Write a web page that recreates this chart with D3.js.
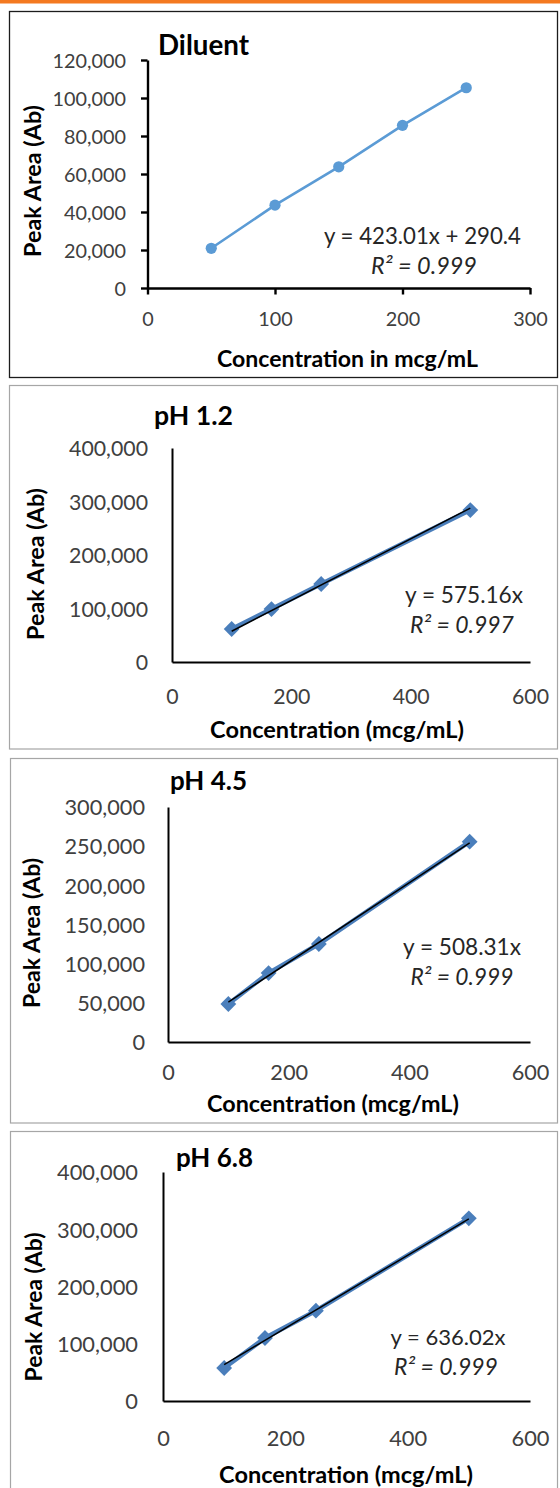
<!DOCTYPE html>
<html><head><meta charset="utf-8">
<script src="https://cdn.jsdelivr.net/npm/d3@7"></script>
<style>body{margin:0;background:#fff}svg{display:block}text{font-family:Lato,"Open Sans",sans-serif}</style>
</head><body><svg id="c" width="560" height="1488"></svg>
<script>
// ---- data ----
const diluentConc = [50, 100, 150, 200, 250];
const diluentArea = [20900, 43600, 63800, 85600, 105400];
const bufferConc = [100, 166.7, 250, 500];
const ph12Area = [61700, 99000, 145800, 284000];
const ph45Area = [48500, 88000, 125100, 255700];
const ph68Area = [57600, 110000, 157700, 319100];
const panelTitles = ["Diluent", "pH 1.2", "pH 4.5", "pH 6.8"];
const xAxisTitles = ["Concentration in mcg/mL", "Concentration (mcg/mL)", "Concentration (mcg/mL)", "Concentration (mcg/mL)"];
const yAxisTitle = "Peak Area (Ab)";
const slopes = [423.01, 575.16, 508.31, 636.02];
const intercepts = [290.4, 0, 0, 0];
const rSquared = ["0.999", "0.997", "0.999", "0.999"];
const diluentXTicks = [0, 100, 200, 300];
const diluentYTicks = [0, 20000, 40000, 60000, 80000, 100000, 120000];
const bufferXTicks = [0, 200, 400, 600];
const ph12YTicks = [0, 100000, 200000, 300000, 400000];
const ph45YTicks = [0, 50000, 100000, 150000, 200000, 250000, 300000];
const ph68YTicks = [0, 100000, 200000, 300000, 400000];

const svg = d3.select("#c");
svg.append("rect").attr("x", 0).attr("y", 0).attr("width", 560).attr("height", 3.5).attr("fill", "#f47920");

function fitSize(text, weight, style, target) {
  const t = svg.append("text").attr("font-size", 100).attr("font-weight", weight).attr("font-style", style).text(text);
  const w = t.node().getComputedTextLength();
  t.remove();
  return 100 * target / w;
}

const panels = [
  { conc: diluentConc, area: diluentArea, xTicks: diluentXTicks, yTicks: diluentYTicks, xDom: [0, 300], yDom: [0, 120000],
    box: [9.5, 11.5, 548, 366], boxStroke: "#1c1c1c", boxW: 1.3, xr: [147.5, 530], yr: [288, 60], ticks: true,
    yLabRight: 126, yLabW: 73.5, xLabBase: 326, title: [158, 55, 91], xTitle: [347.5, 367, 261], yTitle: [181, 41, 152],
    eq: [422.5, 244, 197], r2: [424, 274, 106], kind: "circle" },
  { conc: bufferConc, area: ph12Area, xTicks: bufferXTicks, yTicks: ph12YTicks, xDom: [0, 600], yDom: [0, 400000],
    box: [9.5, 385.5, 548, 363.5], boxStroke: "#a6a6a6", boxW: 1.2, xr: [172, 530], yr: [662, 448], ticks: false,
    yLabRight: 148, yLabW: 79, xLabBase: 703.5, title: [154, 425, 79], xTitle: [337, 738, 254], yTitle: [564, 44, 152],
    eq: [464, 603, 118], r2: [462, 633, 104], kind: "diamond" },
  { conc: bufferConc, area: ph45Area, xTicks: bufferXTicks, yTicks: ph45YTicks, xDom: [0, 600], yDom: [0, 300000],
    box: [10.5, 758.5, 547, 364.5], boxStroke: "#a6a6a6", boxW: 1.2, xr: [168, 530], yr: [1042, 807], ticks: false,
    yLabRight: 145, yLabW: 80.5, xLabBase: 1079.5, title: [170, 790, 77], xTitle: [333, 1112, 252], yTitle: [933, 40, 150],
    eq: [462, 955, 118], r2: [462, 985, 103], kind: "diamond" },
  { conc: bufferConc, area: ph68Area, xTicks: bufferXTicks, yTicks: ph68YTicks, xDom: [0, 600], yDom: [0, 400000],
    box: [10.5, 1131.5, 547, 400], boxStroke: "#a6a6a6", boxW: 1.2, xr: [163, 530], yr: [1401, 1172], ticks: false,
    yLabRight: 138, yLabW: 81, xLabBase: 1445.5, title: [176, 1167, 77], xTitle: [346, 1483, 254], yTitle: [1307, 42, 149],
    eq: [448, 1345, 115], r2: [446, 1375, 104], kind: "diamond" }
];

const fmt = d3.format(",");

panels.forEach((p, i) => {
  const g = svg.append("g");
  g.append("rect").attr("x", p.box[0]).attr("y", p.box[1]).attr("width", p.box[2]).attr("height", p.box[3])
    .attr("fill", "none").attr("stroke", p.boxStroke).attr("stroke-width", p.boxW);

  const x = d3.scaleLinear().domain(p.xDom).range(p.xr);
  const y = d3.scaleLinear().domain(p.yDom).range(p.yr);

  const tickFs = fitSize(fmt(d3.max(p.yTicks)), "normal", "normal", p.yLabW);
  const tickLen = p.ticks ? 6.5 : 0;
  const axW = p.ticks ? 2.4 : 2;

  const ya = g.append("g").attr("transform", `translate(${p.xr[0]},0)`)
    .call(d3.axisLeft(y).tickValues(p.yTicks).tickFormat(fmt).tickSize(tickLen).tickSizeOuter(0).tickPadding(p.xr[0] - tickLen - p.yLabRight));
  const xa = g.append("g").attr("transform", `translate(0,${p.yr[0]})`)
    .call(d3.axisBottom(x).tickValues(p.xTicks).tickFormat(d3.format("d")).tickSize(tickLen).tickSizeOuter(0));
  [ya, xa].forEach(a => {
    a.select(".domain").attr("stroke", "#000").attr("stroke-width", axW);
    a.selectAll(".tick line").attr("stroke", "#000").attr("stroke-width", axW);
    a.selectAll("text").attr("font-size", tickFs).attr("fill", "#404040").style("font-family", "Lato");
  });
  ya.attr("font-family", null);
  xa.attr("font-family", null);
  ya.selectAll("text").attr("dy", "0.36em");
  xa.selectAll("text").attr("dy", null).attr("y", p.xLabBase - p.yr[0]);

  // data marks
  const pts = p.conc.map((c, k) => [c, p.area[k]]);
  const line = d3.line().x(d => x(d[0])).y(d => y(d[1]));
  if (p.kind === "circle") {
    g.append("path").datum(pts).attr("d", line).attr("fill", "none").attr("stroke", "#5b9bd5").attr("stroke-width", 2.6);
    g.selectAll(".pt").data(pts).enter().append("circle")
      .attr("cx", d => x(d[0])).attr("cy", d => y(d[1])).attr("r", 5.6).attr("fill", "#5b9bd5");
  } else {
    g.append("path").datum(pts).attr("d", line).attr("fill", "none").attr("stroke", "#4a7ebb").attr("stroke-width", 4.5);
    const sym = d3.symbol().type(d3.symbolSquare).size(125);
    g.selectAll(".pt").data(pts).enter().append("path").attr("d", sym)
      .attr("transform", d => `translate(${x(d[0])},${y(d[1])}) rotate(45)`).attr("fill", "#4a7ebb");
    const ext = d3.extent(p.conc);
    const trend = ext.map(c => [c, slopes[i] * c + intercepts[i]]);
    g.append("path").datum(trend).attr("d", line).attr("fill", "none").attr("stroke", "#000").attr("stroke-width", 1.5);
  }

  // titles
  const tfs = fitSize(panelTitles[i], "bold", "normal", p.title[2]);
  g.append("text").attr("x", p.title[0]).attr("y", p.title[1]).attr("font-size", tfs).attr("font-weight", "bold").attr("fill", "#000").text(panelTitles[i]);

  const xtfs = fitSize(xAxisTitles[i], "bold", "normal", p.xTitle[2]);
  g.append("text").attr("x", p.xTitle[0]).attr("y", p.xTitle[1]).attr("text-anchor", "middle").attr("font-size", xtfs)
    .attr("font-weight", "bold").attr("fill", "#000").text(xAxisTitles[i]);

  const ytfs = fitSize(yAxisTitle, "bold", "normal", p.yTitle[2]);
  g.append("text").attr("transform", `translate(${p.yTitle[1]},${p.yTitle[0]}) rotate(-90)`).attr("text-anchor", "middle")
    .attr("font-size", ytfs).attr("font-weight", "bold").attr("fill", "#000").text(yAxisTitle);

  const eqText = "y = " + slopes[i] + "x" + (intercepts[i] ? " + " + intercepts[i] : "");
  const efs = fitSize(eqText, "normal", "normal", p.eq[2]);
  g.append("text").attr("x", p.eq[0]).attr("y", p.eq[1]).attr("text-anchor", "middle").attr("font-size", efs)
    .attr("fill", "#262626").text(eqText);
  const r2Text = "R² = " + rSquared[i];
  const rfs = fitSize(r2Text, "normal", "italic", p.r2[2]);
  g.append("text").attr("x", p.r2[0]).attr("y", p.r2[1]).attr("text-anchor", "middle").attr("font-size", rfs)
    .attr("font-style", "italic").attr("fill", "#262626").text(r2Text);
});
</script>
</body></html>
